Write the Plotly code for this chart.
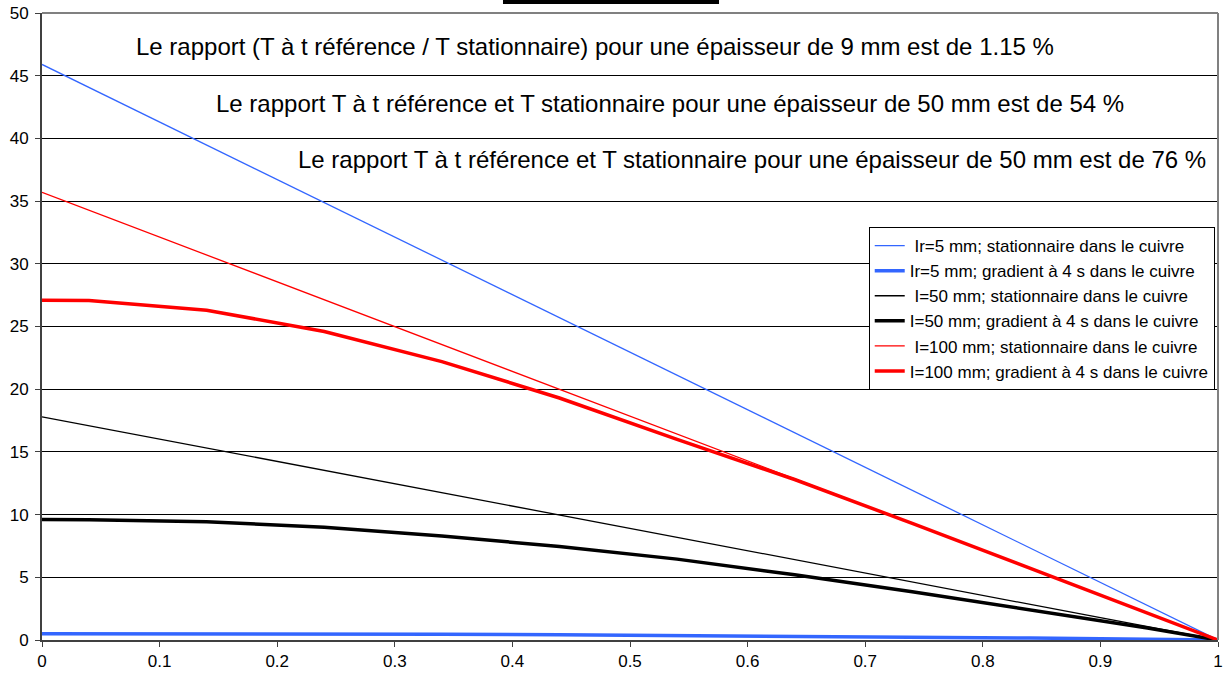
import plotly.graph_objects as go

# Data
x_stat = [0.0, 1.0]
y_stat_5 = [45.9, 0.0]
y_stat_50 = [17.8, 0.0]
y_stat_100 = [35.7, 0.0]

x_grad = [0.0, 0.04, 0.14, 0.24, 0.34, 0.44, 0.54, 0.64, 0.74, 0.84, 0.94, 1.0]
y_grad_5 = [0.5, 0.5, 0.5, 0.48, 0.45, 0.42, 0.37, 0.31, 0.24, 0.16, 0.06, 0.0]
y_grad_50 = [9.6, 9.58, 9.42, 9.0, 8.3, 7.45, 6.45, 5.2, 3.85, 2.4, 0.95, 0.0]
y_grad_100 = [27.1, 27.08, 26.3, 24.6, 22.2, 19.3, 16.0, 12.8, 9.3, 5.7, 2.1, 0.0]

names = [
    " Ir=5 mm; stationnaire dans le cuivre",
    "Ir=5 mm; gradient à 4 s dans le cuivre",
    " I=50 mm; stationnaire dans le cuivre",
    "I=50 mm; gradient à 4 s dans le cuivre",
    " I=100 mm; stationnaire dans le cuivre",
    "I=100 mm; gradient à 4 s dans le cuivre",
]

notes = [
    "Le rapport (T à t référence / T stationnaire) pour une épaisseur de 9 mm est de 1.15 %",
    "Le rapport T à t référence et T stationnaire pour une épaisseur de 50 mm est de 54 %",
    "Le rapport T à t référence et T stationnaire pour une épaisseur de 50 mm est de 76 %",
]
note_y = [47.3, 42.8, 38.3]
note_x = [0.470, 0.534, 0.604]

x_ticks = [0, 0.1, 0.2, 0.3, 0.4, 0.5, 0.6, 0.7, 0.8, 0.9, 1]
y_ticks = [0, 5, 10, 15, 20, 25, 30, 35, 40, 45, 50]

BLUE = "#3366FF"
RED = "#FF0000"
BLACK = "#000000"

series = [
    (x_stat, y_stat_5, BLUE, 1.3),
    (x_grad, y_grad_5, BLUE, 3.5),
    (x_stat, y_stat_50, BLACK, 1.3),
    (x_grad, y_grad_50, BLACK, 3.5),
    (x_stat, y_stat_100, RED, 1.3),
    (x_grad, y_grad_100, RED, 3.5),
]

fig = go.Figure()
for i, (xs, ys, c, w) in enumerate(series):
    fig.add_trace(go.Scatter(x=xs, y=ys, mode="lines", name=names[i],
                             line=dict(color=c, width=w),
                             legendgroup=f"g{i}"))

for t, xx, yy in zip(notes, note_x, note_y):
    fig.add_annotation(x=xx, y=yy, xref="x", yref="y", text=t, showarrow=False,
                       font=dict(family="Liberation Sans, Arial", size=24, color="black"))

# top decorative underline (clipped title) and gray borders
fig.add_shape(type="line", xref="paper", yref="paper", x0=0.392, x1=0.5757,
              y0=1.0175, y1=1.0175, line=dict(color="black", width=4))
fig.add_shape(type="line", xref="paper", yref="paper", x0=0, x1=1, y0=1, y1=1,
              line=dict(color="#808080", width=2))
fig.add_shape(type="line", xref="paper", yref="paper", x0=1, x1=1, y0=0, y1=1,
              line=dict(color="#808080", width=2))

fig.update_layout(
    width=1231, height=675,
    margin=dict(l=42, r=13, t=13, b=35),
    paper_bgcolor="white", plot_bgcolor="white",
    font=dict(family="Liberation Sans, Arial", color="black", size=17),
    showlegend=True,
    legend=dict(x=0.703, y=0.6587, xanchor="left", yanchor="top",
                bordercolor="black", borderwidth=1, bgcolor="white",
                font=dict(size=17), tracegroupgap=1, itemwidth=30,
                traceorder="normal"),
    xaxis=dict(range=[0, 1], tickvals=x_ticks, ticktext=[str(v) for v in x_ticks],
               showgrid=False, zeroline=False, showline=True, linecolor="#404040",
               linewidth=2, ticks="outside", ticklen=5, tickcolor="#404040",
               tickfont=dict(size=17), automargin=False),
    yaxis=dict(range=[0, 50], tickvals=y_ticks, showgrid=True, gridcolor="black",
               gridwidth=1, zeroline=False, showline=True, linecolor="#404040",
               linewidth=2, ticks="outside", ticklen=5, tickcolor="#404040",
               tickfont=dict(size=17), automargin=False, ticklabelstandoff=3),
)

fig.write_html("out.html")
